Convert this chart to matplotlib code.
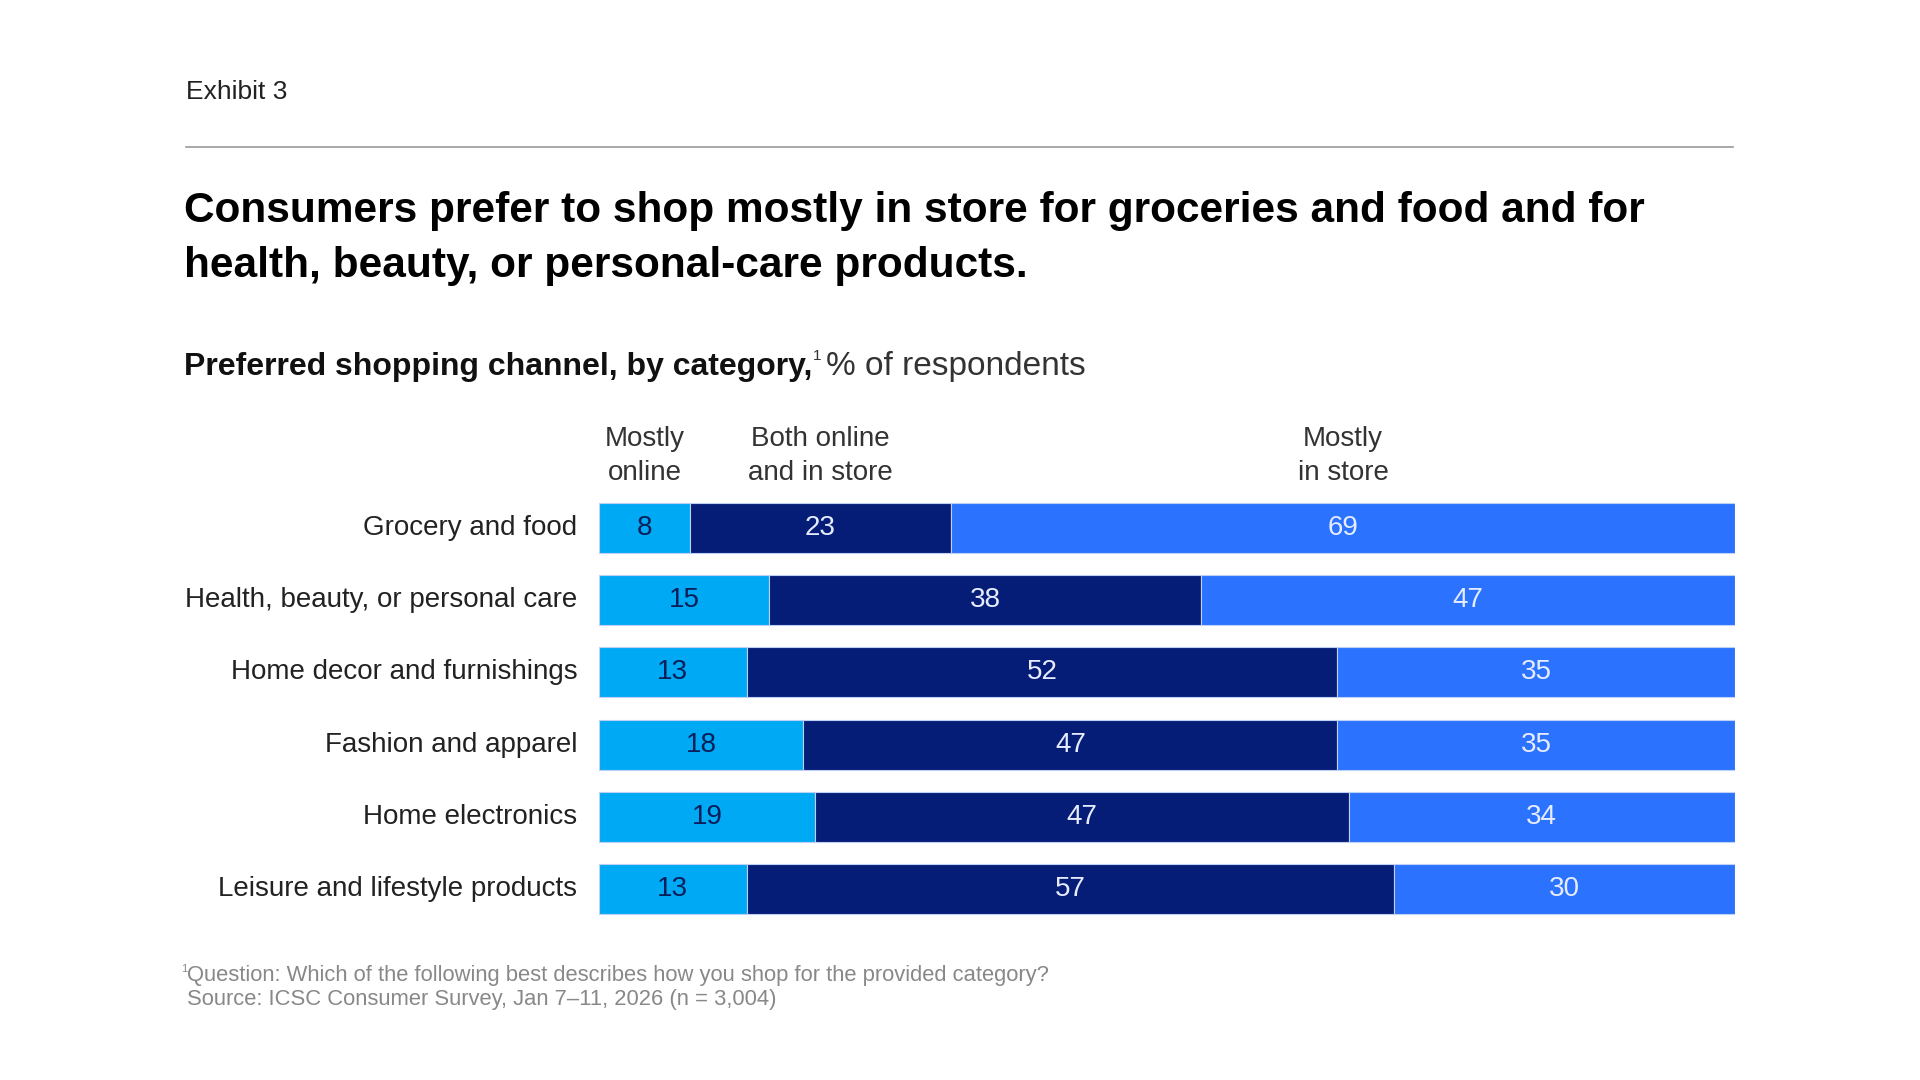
import matplotlib.pyplot as plt

categories = [
    "Grocery and food",
    "Health, beauty, or personal care",
    "Home decor and furnishings",
    "Fashion and apparel",
    "Home electronics",
    "Leisure and lifestyle products",
]
mostly_online = [8, 15, 13, 18, 19, 13]
both = [23, 38, 52, 47, 47, 57]
mostly_store = [69, 47, 35, 35, 34, 30]
series_names = ["Mostly\nonline", "Both online\nand in store", "Mostly\nin store"]

colors = ["#00A9F4", "#061D78", "#2B72FF"]
label_colors = ["#0A1E5A", "#E6ECFF", "#E6ECFF"]

W, H = 1920, 1080
plt.rcParams['font.family'] = ['Liberation Sans', 'DejaVu Sans']
fig = plt.figure(figsize=(19.2, 10.8), dpi=100)


def px(x, y):
    return x / W, 1 - y / H


# header block
fig.text(*px(186, 92), "Exhibit 3", fontsize=19, color="#222222", va="center")
fig.add_artist(plt.Line2D([186 / W, 1733 / W], [1 - 147 / H] * 2,
                          color="#999999", lw=1.2))
fig.text(*px(184, 211), "Consumers prefer to shop mostly in store for groceries and food and for",
         fontsize=30.5, fontweight="bold", color="#000000", va="center")
fig.text(*px(184, 266), "health, beauty, or personal-care products.",
         fontsize=30.5, fontweight="bold", color="#000000", va="center")

renderer = fig.canvas.get_renderer()
t1 = fig.text(*px(184, 367), "Preferred shopping channel, by category,",
              fontsize=23, fontweight="bold", color="#111111", va="center")
x_end = t1.get_window_extent(renderer).x1
t2 = fig.text(x_end / W + 0.0005, 1 - 356 / H, "1", fontsize=11, color="#333333", va="center")
x_end = t2.get_window_extent(renderer).x1
fig.text(x_end / W + 0.002, 1 - 367 / H, "% of respondents", fontsize=24,
         color="#333333", va="center")

# bars
row_top, row_step = 528, 72.2
ax_top = row_top - row_step / 2
ax_bot = row_top + row_step * (len(categories) - 0.5)
ax = fig.add_axes([599 / W, 1 - ax_bot / H, (1735 - 599) / W, (ax_bot - ax_top) / H])
ax.set_xlim(0, 100)
ax.set_ylim(len(categories) - 0.5, -0.5)
ax.axis("off")

ypos = list(range(len(categories)))
left = [0] * len(categories)
for vals, c, lc in zip([mostly_online, both, mostly_store], colors, label_colors):
    bars = ax.barh(ypos, vals, left=left, height=0.69, color=c,
                   edgecolor="#BFD0F5", linewidth=0.8)
    for y, l, v in zip(ypos, left, vals):
        ax.text(l + v / 2, y, str(v), ha="center", va="center", fontsize=20, color=lc)
    left = [l + v for l, v in zip(left, vals)]

# column headers over the first row
starts = [0, mostly_online[0], mostly_online[0] + both[0]]
widths = [mostly_online[0], both[0], mostly_store[0]]
for s, w, name in zip(starts, widths, series_names):
    ax.text(s + w / 2, -0.58, name, ha="center", va="bottom", fontsize=20,
            color="#333333", linespacing=1.42)

for y, cat in zip(ypos, categories):
    ax.text(-1.9, y, cat, ha="right", va="center", fontsize=20, color="#222222")

# footnote
fig.text(*px(181, 969), "1", fontsize=8, color="#888888", va="center")
fig.text(*px(187, 976), "Question: Which of the following best describes how you shop for the provided category?",
         fontsize=15.8, color="#888888", va="center")
fig.text(*px(187, 1000), "Source: ICSC Consumer Survey, Jan 7\u201311, 2026 (n = 3,004)",
         fontsize=15.8, color="#888888", va="center")

fig.savefig("out.png", dpi=100, facecolor="white")
